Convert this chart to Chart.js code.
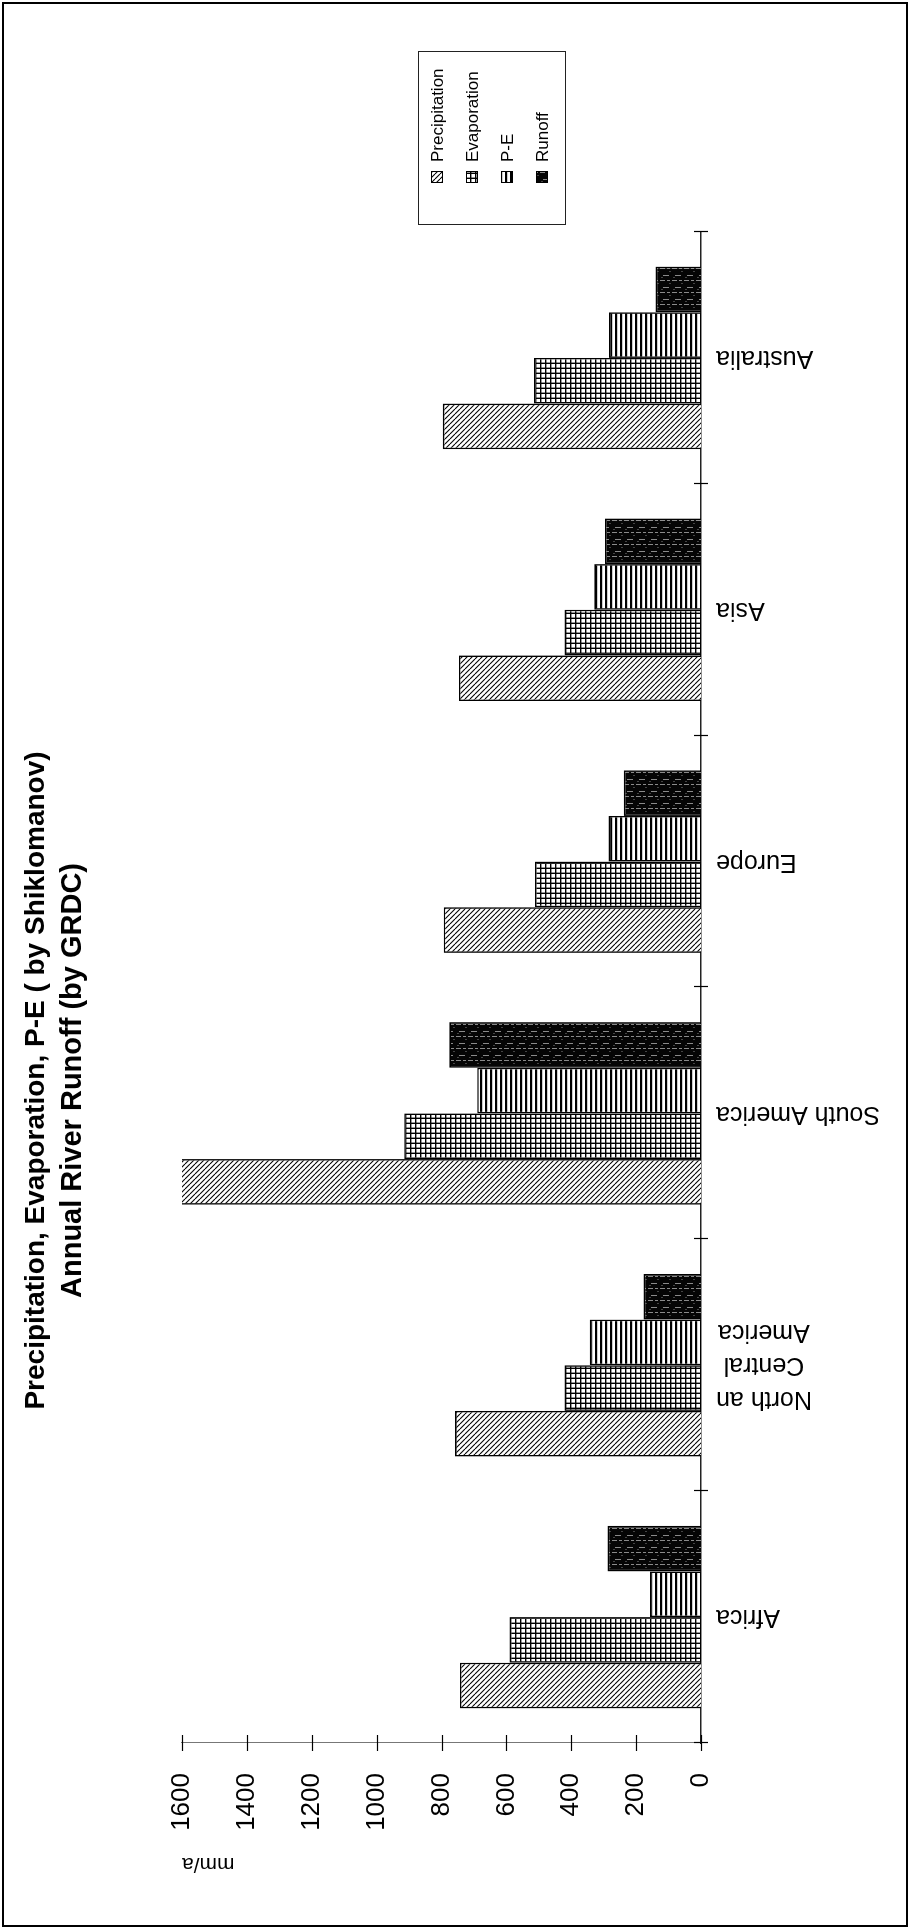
<!DOCTYPE html>
<html>
<head>
<meta charset="utf-8">
<title>Precipitation, Evaporation, P-E, Runoff</title>
<script src="https://cdn.jsdelivr.net/npm/chart.js@4.4.1/dist/chart.umd.min.js"></script>
<style>
html, body { margin:0; padding:0; background:#fff; overflow:hidden; }
#page { position:relative; width:910px; height:1929px; overflow:hidden; background:#fff; }
/* the chart is drawn landscape and turned a quarter round, like the scanned page */
#turn { position:absolute; left:0; top:0; width:1929px; height:910px; transform-origin:0 0; transform:translateY(1929px) rotate(-90deg); }
</style>
</head>
<body>
<div id="page"><div id="turn"><canvas id="myChart" width="1929" height="910"></canvas></div></div>
<script>
var categories = ['Africa', ['North an', 'Central', 'America'], 'South America', 'Europe', 'Asia', 'Australia'];
var seriesNames = ['Precipitation', 'Evaporation', 'P-E', 'Runoff'];
var precipitation = [743, 758, 1610, 793, 746, 796];
var evaporation = [590, 421, 915, 512, 421, 515];
var pMinusE = [157, 343, 690, 285, 329, 284];
var runoff = [288, 177, 776, 238, 296, 140];
var valueTicks = [0, 200, 400, 600, 800, 1000, 1200, 1400, 1600];
var titleText = 'Precipitation, Evaporation, P-E ( by Shiklomanov)';
var subtitleText = 'Annual River Runoff (by GRDC)';
var axisTitle = 'mm/a';

var FONT = "'Liberation Sans', Arial, sans-serif";
Chart.defaults.font.family = FONT;
Chart.defaults.color = '#000';

var ctx = document.getElementById('myChart').getContext('2d');

function tile(w, h, bg, draw) {
	var c = document.createElement('canvas');
	c.width = w; c.height = h;
	var g = c.getContext('2d');
	g.fillStyle = bg;
	g.fillRect(0, 0, w, h);
	draw(g);
	return ctx.createPattern(c, 'repeat');
}

// hatch fills (drawn in landscape, so they look turned in the picture)
var hatch = tile(5, 5, '#fff', function(g){
	g.strokeStyle = '#000'; g.lineWidth = 1.1;
	[-5, 0, 5].forEach(function(k){ g.beginPath(); g.moveTo(k, 0); g.lineTo(k + 5, 5); g.stroke(); });
});
var gridFill = tile(5, 5, '#fff', function(g){
	g.fillStyle = '#000';
	g.fillRect(0, 0, 5, 1.4);
	g.fillRect(0, 0, 1.4, 5);
});
var stripes = tile(4, 5, '#fff', function(g){
	g.fillStyle = '#000';
	g.fillRect(0, 0, 4, 2.2);
});
var dark = tile(12, 12, '#050505', function(g){
	g.fillStyle = '#8a8a8a';
	g.fillRect(4, 0, 1, 5);
	g.fillRect(4, 7, 1, 3);
	g.fillRect(9, 3, 1, 6);
	g.fillStyle = '#444';
	g.fillRect(1, 9, 1, 2);
	g.fillRect(7, 1, 1, 2);
});
var fills = [hatch, gridFill, stripes, dark];

var datasets = [precipitation, evaporation, pMinusE, runoff].map(function(d, i){
	return {
		label: seriesNames[i],
		data: d,
		backgroundColor: fills[i],
		borderColor: '#000',
		borderWidth: 1.6,
		categoryPercentage: 0.725,
		barPercentage: 1.0
	};
});

var decor = {
	id: 'decor',
	beforeDraw: function(chart){
		var c = chart.ctx;
		c.save();
		c.fillStyle = '#fff';
		c.fillRect(0, 0, chart.width, chart.height);
		c.restore();
	},
	afterDraw: function(chart){
		var c = chart.ctx;
		var xs = chart.scales.x, ys = chart.scales.y;
		var area = chart.chartArea;
		c.save();
		// crossing tick marks
		c.strokeStyle = '#000';
		c.lineWidth = 1.2;
		valueTicks.forEach(function(v){
			var y = Math.round(ys.getPixelForValue(v)) + 0.5;
			c.beginPath(); c.moveTo(area.left - 8, y); c.lineTo(area.left + 8, y); c.stroke();
		});
		for (var i = 0; i <= categories.length; i++) {
			var x = Math.round(xs.getPixelForValue(i - 0.5)) + 0.5;
			c.beginPath(); c.moveTo(x, area.bottom - 7); c.lineTo(x, area.bottom + 7); c.stroke();
		}
		// category labels, reading upwards
		c.font = '25px ' + FONT;
		c.fillStyle = '#000';
		c.textAlign = 'center';
		c.textBaseline = 'middle';
		categories.forEach(function(cat, i){
			var lines = Array.isArray(cat) ? cat : [cat];
			var maxW = Math.max.apply(null, lines.map(function(l){ return c.measureText(l).width; }));
			c.save();
			c.translate(xs.getPixelForValue(i), area.bottom + 15);
			c.rotate(-Math.PI / 2);
			lines.forEach(function(l, j){
				c.fillText(l, -maxW / 2, (j - (lines.length - 1) / 2) * 33.5);
			});
			c.restore();
		});
		// legend
		c.lineWidth = 1;
		c.strokeStyle = '#222';
		c.strokeRect(1704.5, 418.5, 173, 147);
		c.font = '17px ' + FONT;
		c.textAlign = 'left';
		chart.data.datasets.forEach(function(ds, k){
			var y = 437 + k * 35;
			c.fillStyle = ds.backgroundColor;
			c.fillRect(1746, y - 6, 12, 12);
			c.strokeStyle = '#000';
			c.strokeRect(1746.5, y - 5.5, 11, 11);
			c.fillStyle = '#000';
			c.fillText(ds.label, 1767, y + 1);
		});
		// page frame
		c.lineWidth = 2;
		c.strokeStyle = '#000';
		c.strokeRect(3, 3, chart.width - 6, chart.height - 6);
		c.restore();
	}
};

var myChart = new Chart(ctx, {
	type: 'bar',
	data: { labels: categories, datasets: datasets },
	plugins: [decor],
	options: {
		responsive: false,
		animation: false,
		devicePixelRatio: 1,
		layout: { padding: { left: 0, right: 232, top: 0, bottom: 0 } },
		plugins: {
			legend: { display: false },
			tooltip: { enabled: false },
			title: {
				display: true,
				text: titleText,
				color: '#000',
				font: { size: 28, weight: 'bold', lineHeight: 1.2 },
				padding: { top: 19, bottom: 0 }
			},
			subtitle: {
				display: true,
				text: subtitleText,
				color: '#000',
				font: { size: 29, weight: 'bold', lineHeight: 1.2 },
				padding: { top: 3, bottom: 91.6 }
			}
		},
		scales: {
			x: {
				grid: { display: false, offset: true },
				border: { display: true, color: '#222', width: 1.5 },
				ticks: { display: false },
				afterFit: function(s){ s.height = 209; }
			},
			y: {
				min: valueTicks[0],
				max: valueTicks[valueTicks.length - 1],
				grid: { display: false },
				border: { display: true, color: '#777', width: 1 },
				ticks: { color: '#000', font: { size: 26 }, padding: 22, callback: function(v){ return String(v); } },
				afterBuildTicks: function(s){ s.ticks = valueTicks.map(function(v){ return { value: v }; }); },
				title: { display: true, text: axisTitle, align: 'end', color: '#000', font: { size: 21, lineHeight: 1.2 }, padding: { top: 53, bottom: 0 } },
				afterFit: function(s){ s.width = 186; }
			}
		}
	}
});
</script>
</body>
</html>
